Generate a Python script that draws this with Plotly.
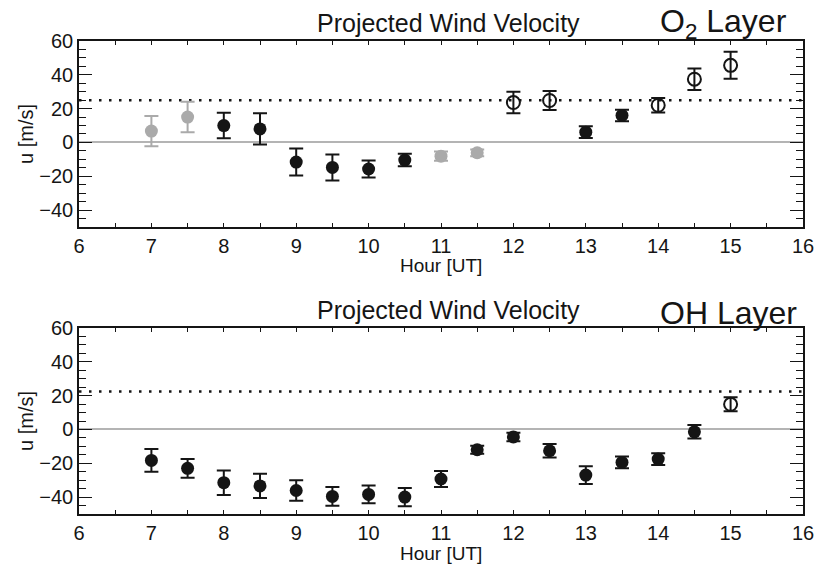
import plotly.graph_objects as go

# ---------------- data ----------------
o2_hours = [7, 7.5, 8, 8.5, 9, 9.5, 10, 10.5, 11, 11.5, 12, 12.5, 13, 13.5, 14, 14.5, 15]
o2_u     = [6.7, 15.0, 10.0, 8.0, -11.6, -14.8, -15.7, -10.4, -8.1, -6.1, 23.6, 24.8, 6.1, 16.0, 22.0, 37.4, 45.6]
o2_err   = [9.0, 9.0, 7.5, 9.2, 8.0, 7.7, 5.0, 3.7, 2.8, 2.0, 6.4, 5.6, 3.5, 3.4, 4.3, 6.4, 8.0]
o2_style = ["g", "g", "f", "f", "f", "f", "f", "f", "g", "g", "o", "o", "f", "f", "o", "o", "o"]
o2_ref = 25.0

oh_hours = [7, 7.5, 8, 8.5, 9, 9.5, 10, 10.5, 11, 11.5, 12, 12.5, 13, 13.5, 14, 14.5, 15]
oh_u     = [-18.3, -23.0, -31.5, -33.4, -36.1, -39.6, -38.4, -40.0, -29.3, -12.0, -4.4, -12.6, -27.0, -19.5, -17.5, -1.4, 14.9]
oh_err   = [6.7, 5.5, 7.2, 7.2, 6.0, 5.5, 5.2, 5.4, 4.7, 2.3, 2.5, 4.0, 5.3, 3.5, 3.5, 4.0, 4.2]
oh_style = ["f"] * 16 + ["o"]
oh_ref = 22.5

x_range = [6, 16]
y_range = [-50, 60]
title_main = "Projected Wind Velocity"
layer_labels = ["O<sub>2</sub> Layer", "OH Layer"]
x_title = "Hour [UT]"
y_title = "u [m/s]"

# ---------------- styling ----------------
BLACK = "#151515"
GRAY = "#aaaaaa"
FONT = "Liberation Sans, Arial, sans-serif"

fig = go.Figure()

def add_panel(hours, vals, errs, styles, xa, ya):
    for key in ["g", "f", "o"]:
        idx = [i for i, s in enumerate(styles) if s == key]
        if not idx:
            continue
        col = GRAY if key == "g" else BLACK
        marker = dict(size=13, color=col)
        if key == "o":
            marker = dict(size=13, color=BLACK, symbol="circle-open", line=dict(width=2, color=BLACK))
        fig.add_trace(go.Scatter(
            x=[hours[i] for i in idx],
            y=[vals[i] for i in idx],
            mode="markers",
            marker=marker,
            error_y=dict(type="data", array=[errs[i] for i in idx], visible=True,
                         color=col, thickness=2, width=7),
            xaxis=xa, yaxis=ya, showlegend=False, hoverinfo="x+y",
        ))

add_panel(o2_hours, o2_u, o2_err, o2_style, "x", "y")
add_panel(oh_hours, oh_u, oh_err, oh_style, "x2", "y2")

axis_common = dict(
    showline=True, linecolor=BLACK, linewidth=1.5, mirror="allticks",
    ticks="inside", tickcolor=BLACK, showgrid=False, automargin=False,
    tickfont=dict(family=FONT, size=20, color=BLACK),
)
xcommon = dict(axis_common, range=x_range, dtick=1, tick0=6, ticklen=4, tickwidth=1,
               minor=dict(dtick=0.5, ticklen=4, tickcolor=BLACK, ticks="inside"),
               zeroline=False)
ycommon = dict(axis_common, range=y_range, dtick=20, tick0=0, ticklen=13, tickwidth=1,
               minor=dict(dtick=5, ticklen=7, tickcolor=BLACK, ticks="inside"),
               zeroline=True, zerolinecolor="#b4b4b4", zerolinewidth=2)

top_dom = [0.6068, 1.0]
bot_dom = [0.0, 0.3932]

fig.update_layout(
    width=816, height=570,
    margin=dict(l=79, r=13, t=41, b=56, autoexpand=False),
    paper_bgcolor="white", plot_bgcolor="white",
    xaxis=dict(xcommon, domain=[0, 1], anchor="y"),
    yaxis=dict(ycommon, domain=top_dom, anchor="x"),
    xaxis2=dict(xcommon, domain=[0, 1], anchor="y2"),
    yaxis2=dict(ycommon, domain=bot_dom, anchor="x2"),
)

# dotted reference lines
for ref, xr, yr in [(o2_ref, "x domain", "y"), (oh_ref, "x2 domain", "y2")]:
    fig.add_shape(type="line", xref=xr, yref=yr, x0=0, x1=1, y0=ref, y1=ref,
                  line=dict(color=BLACK, width=2.5, dash="2.5px,7.5px"), layer="below")

# titles and axis titles
for dom, lab in [(top_dom, layer_labels[0]), (bot_dom, layer_labels[1])]:
    fig.add_annotation(text=title_main, xref="paper", yref="paper", x=0.5104, y=dom[1],
                       xanchor="center", yanchor="bottom", yshift=2, showarrow=False,
                       font=dict(family=FONT, size=25, color=BLACK))
    fig.add_annotation(text=lab, xref="paper", yref="paper", x=0.7997, y=dom[1],
                       xanchor="left", yanchor="bottom", yshift=-5, showarrow=False,
                       font=dict(family=FONT, size=32, color=BLACK))
    fig.add_annotation(text=x_title, xref="paper", yref="paper", x=0.5, y=dom[0],
                       xanchor="center", yanchor="middle", yshift=-39, showarrow=False,
                       font=dict(family=FONT, size=19, color=BLACK))
    fig.add_annotation(text=y_title, xref="paper", yref="paper", x=0, y=(dom[0] + dom[1]) / 2,
                       xanchor="center", yanchor="middle", xshift=-53, textangle=-90,
                       showarrow=False, font=dict(family=FONT, size=20, color=BLACK))

fig.write_html("out.html", config={"displayModeBar": False},
               post_script="document.body.style.margin='0';")
